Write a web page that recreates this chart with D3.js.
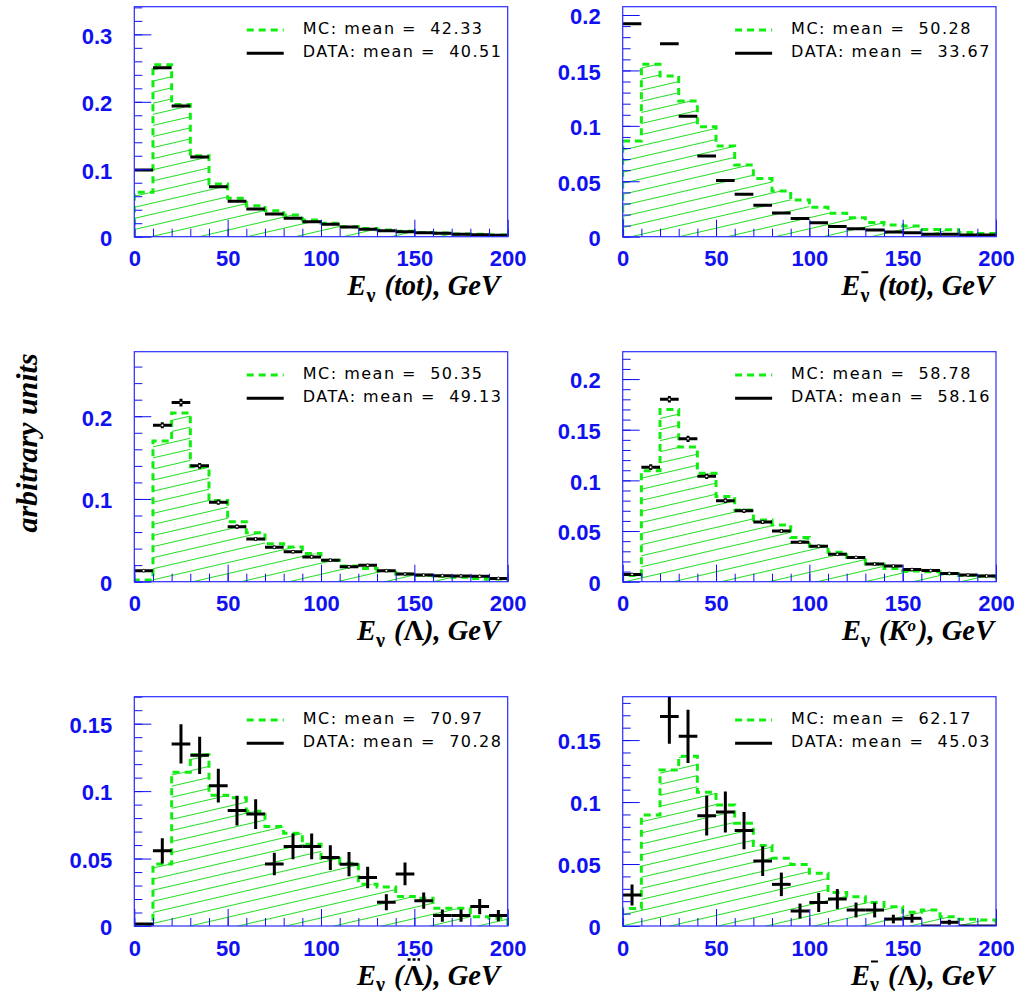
<!DOCTYPE html>
<html>
<head>
<meta charset="utf-8">
<script src="https://cdn.jsdelivr.net/npm/d3@7"></script>
<style>
  body { margin: 0; background: #fff; }
  svg { display: block; }
</style>
</head>
<body>
<svg id="chart" width="1025" height="1001"></svg>
<script>
// ---- binning: 20 energy bins of 10 GeV from 0 to 200 GeV ----
const binEdges = d3.range(0, 201, 10);
const xTickValues = [0, 50, 100, 150, 200];

// ---- E_nu (tot) ----
const mcNuTot   = [0.066, 0.255, 0.196, 0.120, 0.078, 0.057, 0.046, 0.0385, 0.032, 0.0247, 0.0198, 0.0148, 0.012, 0.0099, 0.008, 0.0064, 0.0054, 0.004, 0.0035, 0.0025];
const dataNuTot = [0.0988, 0.2505, 0.1937, 0.118, 0.0741, 0.0524, 0.041, 0.0336, 0.0272, 0.0222, 0.0183, 0.0143, 0.0109, 0.0089, 0.0074, 0.006, 0.005, 0.0035, 0.003, 0.002];

// ---- E_nubar (tot) ----
const mcNubarTot   = [0.0863, 0.1555, 0.145, 0.1224, 0.0992, 0.0818, 0.0647, 0.0526, 0.0412, 0.0331, 0.0265, 0.0211, 0.0171, 0.0129, 0.0105, 0.0096, 0.0066, 0.0063, 0.0039, 0.003];
const dataNubarTot = [0.1922, 0.247, 0.1741, 0.1086, 0.0728, 0.0508, 0.0382, 0.0283, 0.0214, 0.0165, 0.0126, 0.0093, 0.0072, 0.006, 0.0042, 0.0036, 0.0021, 0.0021, 0.0015, 0.0015];

// ---- E_nu (Lambda) ----
const mcNuLambda   = [0.002, 0.170, 0.204, 0.139, 0.098, 0.0726, 0.0593, 0.046, 0.042, 0.034, 0.026, 0.019, 0.016, 0.0133, 0.0093, 0.0077, 0.0065, 0.0055, 0.004, 0.0032];
const dataNuLambda = [0.0133, 0.189, 0.2165, 0.140, 0.096, 0.0665, 0.0516, 0.0415, 0.0363, 0.030, 0.026, 0.018, 0.0198, 0.0133, 0.0093, 0.008, 0.0073, 0.0069, 0.0065, 0.004];
const errNuLambda  = [0.0015, 0.0036, 0.0046, 0.0034, 0.003, 0.0025, 0.0022, 0.002, 0.0018, 0.0017, 0.0016, 0.0014, 0.0014, 0.0012, 0.001, 0.001, 0.001, 0.001, 0.0009, 0.0008];

// ---- E_nu (K0) ----
const mcNuK0   = [0.006, 0.1095, 0.170, 0.133, 0.107, 0.084, 0.0707, 0.061, 0.056, 0.0437, 0.035, 0.029, 0.024, 0.0174, 0.013, 0.0105, 0.0099, 0.0079, 0.006, 0.0056];
const dataNuK0 = [0.0072, 0.113, 0.180, 0.141, 0.104, 0.080, 0.070, 0.059, 0.050, 0.039, 0.035, 0.027, 0.024, 0.0174, 0.0155, 0.012, 0.011, 0.0082, 0.0066, 0.0056];
const errNuK0  = [0.001, 0.0028, 0.0032, 0.003, 0.0026, 0.0023, 0.0021, 0.002, 0.0018, 0.0016, 0.0015, 0.0013, 0.0012, 0.001, 0.001, 0.0009, 0.0009, 0.0008, 0.0007, 0.0007];

// ---- E_nu (anti-Lambda) ----
const mcNuAntiLambda   = [0.001, 0.046, 0.114, 0.127, 0.097, 0.095, 0.085, 0.0738, 0.0688, 0.0606, 0.050, 0.0465, 0.031, 0.029, 0.0218, 0.0205, 0.0131, 0.0131, 0.0069, 0.0057];
const dataNuAntiLambda = [0.0015, 0.0557, 0.135, 0.1265, 0.104, 0.0856, 0.083, 0.046, 0.059, 0.059, 0.0507, 0.0458, 0.036, 0.0176, 0.0386, 0.0188, 0.0077, 0.0077, 0.0144, 0.0077];
const errNuAntiLambda  = [0, 0.0093, 0.0145, 0.0139, 0.0125, 0.011, 0.011, 0.0083, 0.0096, 0.0095, 0.0092, 0.009, 0.008, 0.006, 0.0084, 0.006, 0.0045, 0.0045, 0.0056, 0.0041];

// ---- E_nubar (Lambda) ----
const mcNubarLambda   = [0.0142, 0.0895, 0.1258, 0.137, 0.108, 0.0976, 0.083, 0.065, 0.0546, 0.0497, 0.0425, 0.027, 0.0237, 0.019, 0.0156, 0.011, 0.0129, 0.0075, 0.0054, 0.0048];
const dataNubarLambda = [0.025, 0.217, 0.169, 0.153, 0.089, 0.092, 0.077, 0.0524, 0.0336, 0.0121, 0.019, 0.0218, 0.0129, 0.0129, 0.0056, 0.0062, 0, 0.003, 0, 0];
const errNubarLambda  = [0.0085, 0.023, 0.022, 0.0215, 0.016, 0.0165, 0.015, 0.012, 0.0095, 0.006, 0.0077, 0.008, 0.006, 0.006, 0.0035, 0.0035, 0, 0.002, 0, 0];

// ---- legend means ----
const meanMC   = ["42.33", "50.28", "50.35", "58.78", "70.97", "62.17"];
const meanData = ["40.51", "33.67", "49.13", "58.16", "70.28", "45.03"];

// ---- y axis tick labels per panel ----
const yTickLabels = [
  ["0", "0.1", "0.2", "0.3"],
  ["0", "0.05", "0.1", "0.15", "0.2"],
  ["0", "0.1", "0.2"],
  ["0", "0.05", "0.1", "0.15", "0.2"],
  ["0", "0.05", "0.1", "0.15"],
  ["0", "0.05", "0.1", "0.15"]
];
const yMaxValues = [0.341, 0.2075, 0.278, 0.227, 0.170, 0.185];
const yMinorSteps = [0.02, 0.01, 0.02, 0.01, 0.01, 0.01];

const yTitle = "arbitrary units";

// ---- layout ----
const colX = [[134.3, 507.7], [622.7, 996]];
const rowY = [[6.7, 236.7], [351.7, 581.7], [696.7, 926]];
const titleRight = [500, 994];

const GREEN = "#10ee10";
const HATCH = "#22dd22";
const BLUE = "#1010f0";
const FRAME = "#2a2aff";
const SERIF = "'Liberation Serif', 'Times New Roman', serif";
const SANS = "'Liberation Sans', Arial, Helvetica, sans-serif";

const panels = [
  { row: 0, col: 0, mc: mcNuTot, data: dataNuTot, err: null, marker: false,
    title: [{ t: "E" }, { t: "ν", sub: true }, { t: " (tot), GeV" }] },
  { row: 0, col: 1, mc: mcNubarTot, data: dataNubarTot, err: null, marker: false,
    title: [{ t: "E" }, { t: "ν", sub: true, bar: true }, { t: " (tot), GeV" }] },
  { row: 1, col: 0, mc: mcNuLambda, data: dataNuLambda, err: errNuLambda, marker: true,
    title: [{ t: "E" }, { t: "ν", sub: true }, { t: " (" }, { t: "Λ", upright: true }, { t: "), GeV" }] },
  { row: 1, col: 1, mc: mcNuK0, data: dataNuK0, err: errNuK0, marker: true,
    title: [{ t: "E" }, { t: "ν", sub: true }, { t: " (K" }, { t: "o", sup: true }, { t: "), GeV" }] },
  { row: 2, col: 0, mc: mcNuAntiLambda, data: dataNuAntiLambda, err: errNuAntiLambda, marker: false,
    title: [{ t: "E" }, { t: "ν", sub: true }, { t: " (" }, { t: "Λ", upright: true, bigBar: true }, { t: "), GeV" }] },
  { row: 2, col: 1, mc: mcNubarLambda, data: dataNubarLambda, err: errNubarLambda, marker: false,
    title: [{ t: "E" }, { t: "ν", sub: true, bar: true }, { t: " (" }, { t: "Λ", upright: true }, { t: "), GeV" }] }
];

const svg = d3.select("#chart");
const defs = svg.append("defs");

// diagonal hatching used to fill the MC histograms
const HATCH_GAP = 10.8;
defs.append("pattern")
  .attr("id", "hatch")
  .attr("patternUnits", "userSpaceOnUse")
  .attr("width", 24).attr("height", HATCH_GAP)
  .attr("patternTransform", "rotate(-13)")
  .append("line")
  .attr("x1", 0).attr("x2", 24)
  .attr("y1", HATCH_GAP / 2).attr("y2", HATCH_GAP / 2)
  .attr("stroke", HATCH).attr("stroke-width", 1);

// axis title built from one text element with sub/superscript tspans
function drawTitle(pieces, xRight, baseline) {
  const tg = svg.append("g");
  const text = tg.append("text")
    .attr("x", xRight).attr("y", baseline)
    .attr("text-anchor", "end")
    .attr("font-family", SERIF)
    .attr("font-weight", "bold")
    .attr("font-size", 28.5)
    .style("white-space", "pre");
  let shift = 0;
  pieces.forEach(pc => {
    const dy = pc.sub ? 6.5 : pc.sup ? -9 : 0;
    const ts = text.append("tspan")
      .attr("dy", dy - shift)
      .attr("font-size", pc.sub ? 20 : pc.sup ? 17 : 28.5)
      .attr("font-style", (pc.sub || pc.upright) ? "normal" : "italic")
      .text(pc.t);
    if (shift !== 0 && !pc.sub && !pc.sup) ts.attr("dx", 2);
    shift = dy;
  });
  // overbars drawn above the relevant characters
  const node = text.node();
  let idx = 0;
  pieces.forEach(pc => {
    const n = pc.t.length;
    if (pc.bar || pc.bigBar) {
      const a = node.getStartPositionOfChar(idx).x;
      const b = node.getEndPositionOfChar(idx + n - 1).x;
      const line = tg.append("line").attr("stroke", "#000");
      if (pc.bar) {
        line.attr("x1", a + 1).attr("x2", b - 1)
          .attr("y1", baseline - 23).attr("y2", baseline - 23)
          .attr("stroke-width", 2);
      } else {
        line.attr("x1", a + 4).attr("x2", b - 4)
          .attr("y1", baseline - 25).attr("y2", baseline - 25)
          .attr("stroke-width", 2.4).attr("stroke-dasharray", "3,2");
      }
    }
    idx += n;
  });
}

panels.forEach((p, i) => {
  const [x0, x1] = colX[p.col];
  const [y0, y1] = rowY[p.row];
  const x = d3.scaleLinear().domain([0, 200]).range([x0, x1]);
  const y = d3.scaleLinear().domain([0, yMaxValues[i]]).range([y1, y0]);
  const g = svg.append("g");

  defs.append("clipPath").attr("id", "clip" + i)
    .append("rect")
    .attr("x", x0).attr("y", y0)
    .attr("width", x1 - x0).attr("height", y1 - y0);

  const plot = g.append("g").attr("clip-path", `url(#clip${i})`);

  // MC histogram: hatched area plus dashed outline
  const steps = [];
  p.mc.forEach((v, k) => { steps.push([binEdges[k], v], [binEdges[k + 1], v]); });
  plot.append("path")
    .datum(steps)
    .attr("d", d3.area().x(d => x(d[0])).y0(y(0)).y1(d => y(d[1])))
    .attr("fill", "url(#hatch)");
  plot.append("path")
    .datum([[0, 0], ...steps, [200, 0]])
    .attr("d", d3.line().x(d => x(d[0])).y(d => y(d[1])))
    .attr("fill", "none")
    .attr("stroke", GREEN)
    .attr("stroke-width", 3)
    .attr("stroke-dasharray", "7,5");

  // data points: bin-wide horizontal bars with vertical error bars
  const pts = p.data.map((v, k) => ({ v, e: p.err ? p.err[k] : 0, lo: binEdges[k], hi: binEdges[k + 1] }))
    .filter(d => d.v !== null);
  plot.selectAll(".hbar").data(pts).join("line")
    .attr("x1", d => x(d.lo)).attr("x2", d => x(d.hi))
    .attr("y1", d => y(d.v)).attr("y2", d => y(d.v))
    .attr("stroke", "#000").attr("stroke-width", 3);
  plot.selectAll(".vbar").data(pts.filter(d => d.e > 0)).join("line")
    .attr("x1", d => x((d.lo + d.hi) / 2)).attr("x2", d => x((d.lo + d.hi) / 2))
    .attr("y1", d => y(d.v - d.e)).attr("y2", d => y(d.v + d.e))
    .attr("stroke", "#000").attr("stroke-width", 3);
  if (p.marker) {
    plot.selectAll(".mk").data(pts).join("circle")
      .attr("cx", d => x((d.lo + d.hi) / 2)).attr("cy", d => y(d.v))
      .attr("r", 1.4).attr("fill", "#fff").attr("stroke", "#000").attr("stroke-width", 0.9);
  }

  // axes
  const yMajor = yTickLabels[i].map(Number);
  const yMinor = d3.range(0, yMaxValues[i] + 1e-9, yMinorSteps[i]);
  const xMinor = binEdges;

  const axX = g.append("g").attr("transform", `translate(0,${y1})`)
    .call(d3.axisBottom(x).tickValues(xMinor).tickFormat("").tickSizeInner(-8).tickSizeOuter(0));
  axX.select(".domain").remove();
  const axXM = g.append("g").attr("transform", `translate(0,${y1})`)
    .call(d3.axisBottom(x).tickValues(xTickValues).tickFormat(d3.format("d"))
      .tickSizeInner(-17).tickSizeOuter(0).tickPadding(14));
  axXM.select(".domain").remove();

  const axY = g.append("g").attr("transform", `translate(${x0},0)`)
    .call(d3.axisLeft(y).tickValues(yMinor).tickFormat("").tickSizeInner(-8).tickSizeOuter(0));
  axY.select(".domain").remove();
  const axYM = g.append("g").attr("transform", `translate(${x0},0)`)
    .call(d3.axisLeft(y).tickValues(yMajor).tickFormat((d, j) => yTickLabels[i][j])
      .tickSizeInner(-17).tickSizeOuter(0).tickPadding(22));
  axYM.select(".domain").remove();

  g.selectAll(".tick line").attr("stroke", BLUE).attr("stroke-width", 1);
  [axXM, axYM].forEach(a => a.selectAll("text")
    .attr("font-family", SANS).attr("font-weight", "bold")
    .attr("font-size", 22).attr("fill", BLUE));
  axYM.selectAll("text").attr("dy", "0.4em");

  // frame
  g.append("rect")
    .attr("x", x0).attr("y", y0)
    .attr("width", x1 - x0).attr("height", y1 - y0)
    .attr("fill", "none").attr("stroke", FRAME).attr("stroke-width", 1.2);

  // legend
  const lx = x0 + 112.4, tx = x0 + 168.4;
  g.append("line")
    .attr("x1", lx).attr("x2", lx + 37)
    .attr("y1", y0 + 23.3).attr("y2", y0 + 23.3)
    .attr("stroke", GREEN).attr("stroke-width", 3).attr("stroke-dasharray", "7,5");
  g.append("line")
    .attr("x1", lx).attr("x2", lx + 37)
    .attr("y1", y0 + 46.6).attr("y2", y0 + 46.6)
    .attr("stroke", "#000").attr("stroke-width", 3);
  const legendText = [`MC: mean =  ${meanMC[i]}`, `DATA: mean =  ${meanData[i]}`];
  legendText.forEach((s, k) => {
    g.append("text")
      .attr("x", tx).attr("y", y0 + 27.5 + k * 23)
      .attr("font-family", "'DejaVu Sans', sans-serif")
      .attr("font-size", 16)
      .attr("letter-spacing", 1.5)
      .style("white-space", "pre")
      .attr("fill", "#000")
      .text(s);
  });

  // x axis title
  drawTitle(p.title, titleRight[p.col], y1 + 58.5);
});

// shared y axis title
svg.append("text")
  .attr("transform", "translate(26,443) rotate(-90)")
  .attr("text-anchor", "middle")
  .attr("dominant-baseline", "central")
  .attr("font-family", SERIF)
  .attr("font-weight", "bold")
  .attr("font-style", "italic")
  .attr("font-size", 30)
  .text(yTitle);
</script>
</body>
</html>
